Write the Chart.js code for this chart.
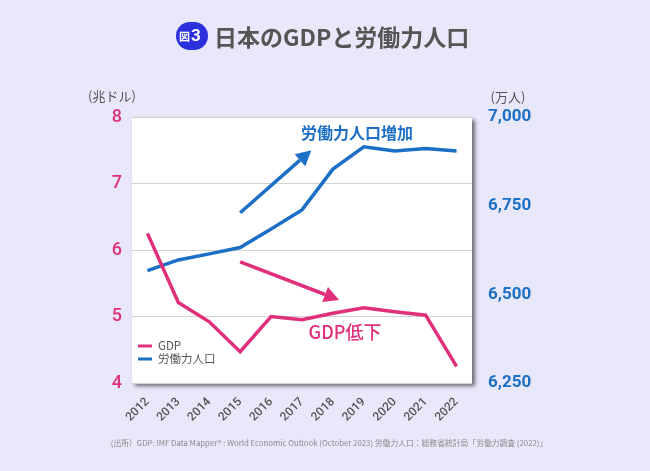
<!DOCTYPE html>
<html>
<head>
<meta charset="utf-8">
<script src="https://cdn.jsdelivr.net/npm/chart.js@4"></script>
<style>
html,body{margin:0;padding:0;background:#e9e8fa;}
canvas{display:block;}
</style>
</head>
<body>
<canvas id="c" width="650" height="471"></canvas>
<script>
const years = ['2012','2013','2014','2015','2016','2017','2018','2019','2020','2021','2022'];
const gdp = [6.25, 5.21, 4.92, 4.47, 5.00, 4.95, 5.05, 5.13, 5.07, 5.02, 4.25];
const labor = [6567, 6597, 6614, 6632, 6684, 6738, 6853, 6916, 6904, 6911, 6904];
const gdpTicks = [4, 5, 6, 7, 8];
const laborTicks = [6250, 6500, 6750, 7000];
const seriesNames = ['GDP', '労働力人口'];
const titleText = '日本のGDPと労働力人口';
const badgeText = ['図', '3'];
const leftUnit = '(兆ドル)';
const rightUnit = '(万人)';
const sourceText = '(出所）GDP: IMF Data Mapper® : World Economic Outlook (October 2023) 労働力人口：総務省統計局「労働力調査 (2022)」';
// annotations in data coordinates (x = category index, y = GDP axis)
const arrowUp = {from: [3, 6.56], to: [5.3, 7.5]};
const arrowDown = {from: [3, 5.82], to: [6.2, 5.25]};
const noteUp = {text: '労働力人口増加', at: [6.78, 7.76]};
const noteDown = {text: 'GDP低下', at: [6.39, 4.77]};

const PINK = '#e0307c';
const BLUE = '#1b6fc6';
const GRAY = '#555555';
const BG = '#e9e8fa';
const CJK = '"Noto Sans CJK JP", "Noto Sans", sans-serif';
const NUM = 'Roboto, "Noto Sans", sans-serif';

const bgPlugin = {
  id: 'bg',
  beforeDraw(chart) {
    const {ctx, chartArea: a} = chart;
    ctx.save();
    ctx.fillStyle = BG;
    ctx.fillRect(0, 0, chart.width, chart.height);
    ctx.shadowColor = 'rgba(0,0,0,0.55)';
    ctx.shadowOffsetX = 3;
    ctx.shadowOffsetY = 3;
    ctx.shadowBlur = 4;
    ctx.fillStyle = '#ffffff';
    ctx.fillRect(a.left, a.top, a.right - a.left, a.bottom - a.top);
    ctx.restore();
  }
};

function drawArrow(ctx, x1, y1, x2, y2, color) {
  const ang = Math.atan2(y2 - y1, x2 - x1);
  const hl = 15, hw = 8;
  const bx = x2 - hl * Math.cos(ang), by = y2 - hl * Math.sin(ang);
  ctx.strokeStyle = color;
  ctx.fillStyle = color;
  ctx.lineWidth = 3.5;
  ctx.lineCap = 'butt';
  ctx.beginPath();
  ctx.moveTo(x1, y1);
  ctx.lineTo(bx, by);
  ctx.stroke();
  ctx.beginPath();
  ctx.moveTo(x2, y2);
  ctx.lineTo(bx + hw * Math.sin(ang), by - hw * Math.cos(ang));
  ctx.lineTo(bx - hw * Math.sin(ang), by + hw * Math.cos(ang));
  ctx.closePath();
  ctx.fill();
}

const decoPlugin = {
  id: 'deco',
  afterDraw(chart) {
    const {ctx, chartArea: a} = chart;
    const xs = chart.scales.x, ys = chart.scales.y;
    const px = v => xs.getPixelForValue(v);
    const py = v => ys.getPixelForValue(v);
    ctx.save();
    // title badge
    ctx.fillStyle = '#2b30dc';
    ctx.beginPath();
    ctx.roundRect(176, 22, 32, 28, 14);
    ctx.fill();
    ctx.fillStyle = '#ffffff';
    ctx.textBaseline = 'middle';
    ctx.textAlign = 'left';
    ctx.font = 'bold 11px ' + CJK;
    ctx.fillText(badgeText[0], 179, 36.5);
    ctx.font = 'bold 17px ' + NUM;
    ctx.fillText(badgeText[1], 191, 36.5);
    // title
    ctx.fillStyle = GRAY;
    ctx.font = 'bold 23px ' + CJK;
    ctx.fillText(titleText, 214, 37);
    // units
    ctx.font = '13px ' + CJK;
    ctx.textAlign = 'center';
    ctx.fillStyle = GRAY;
    ctx.fillText(leftUnit, 112, 96);
    ctx.fillText(rightUnit, 508, 97);
    // arrows
    drawArrow(ctx, px(arrowUp.from[0]), py(arrowUp.from[1]), px(arrowUp.to[0]), py(arrowUp.to[1]), BLUE);
    drawArrow(ctx, px(arrowDown.from[0]), py(arrowDown.from[1]), px(arrowDown.to[0]), py(arrowDown.to[1]), PINK);
    // notes
    ctx.textAlign = 'center';
    ctx.fillStyle = BLUE;
    ctx.font = 'bold 16px ' + CJK;
    ctx.fillText(noteUp.text, px(noteUp.at[0]), py(noteUp.at[1]));
    ctx.fillStyle = PINK;
    ctx.font = '500 18px ' + CJK;
    ctx.fillText(noteDown.text, px(noteDown.at[0]), py(noteDown.at[1]));
    // legend
    const cols = [PINK, BLUE];
    ctx.textAlign = 'left';
    ctx.font = '11.5px ' + CJK;
    seriesNames.forEach((n, i) => {
      const y = a.bottom - 37 + i * 13;
      ctx.strokeStyle = cols[i];
      ctx.lineWidth = 3;
      ctx.beginPath();
      ctx.moveTo(a.left + 6, y);
      ctx.lineTo(a.left + 20, y);
      ctx.stroke();
      ctx.fillStyle = GRAY;
      ctx.fillText(n, a.left + 26, y);
    });
    // source
    ctx.textAlign = 'center';
    ctx.fillStyle = '#8a8a8a';
    ctx.font = '7.8px ' + CJK;
    ctx.fillText(sourceText, 329, 443);
    ctx.restore();
  }
};

new Chart(document.getElementById('c'), {
  type: 'line',
  data: {
    labels: years,
    datasets: [
      {label: seriesNames[0], data: gdp, yAxisID: 'y', borderColor: PINK, borderWidth: 3.5, pointRadius: 0, tension: 0, borderJoinStyle: 'miter'},
      {label: seriesNames[1], data: labor, yAxisID: 'y1', borderColor: BLUE, borderWidth: 3.5, pointRadius: 0, tension: 0, borderJoinStyle: 'miter'}
    ]
  },
  options: {
    responsive: false,
    animation: false,
    devicePixelRatio: 1,
    layout: {padding: {top: 117, left: 0, right: 0, bottom: 0}},
    plugins: {legend: {display: false}, tooltip: {enabled: false}},
    scales: {
      x: {
        offset: true,
        grid: {display: false},
        border: {display: false},
        ticks: {color: GRAY, font: {family: NUM, size: 12, weight: '500'}, minRotation: 45, maxRotation: 45, padding: 4},
        afterFit(s) { s.height = 88; }
      },
      y: {
        position: 'left',
        min: 4, max: 8,
        afterBuildTicks(s) { s.ticks = gdpTicks.map(v => ({value: v})); },
        grid: {color: '#d2d2d2', lineWidth: 1, drawTicks: false},
        border: {display: false},
        ticks: {color: PINK, font: {family: NUM, size: 18, weight: '500'}, padding: 10},
        afterFit(s) { s.width = 132; }
      },
      y1: {
        position: 'right',
        min: 6250, max: 7000,
        afterBuildTicks(s) { s.ticks = laborTicks.map(v => ({value: v})); },
        grid: {display: false, drawTicks: false},
        border: {display: false},
        ticks: {color: BLUE, font: {family: NUM, size: 17, weight: 'bold'}, padding: 16,
          callback: v => v.toLocaleString('en-US')},
        afterFit(s) { s.width = 178; }
      }
    }
  },
  plugins: [bgPlugin, decoPlugin]
});
</script>
</body>
</html>
